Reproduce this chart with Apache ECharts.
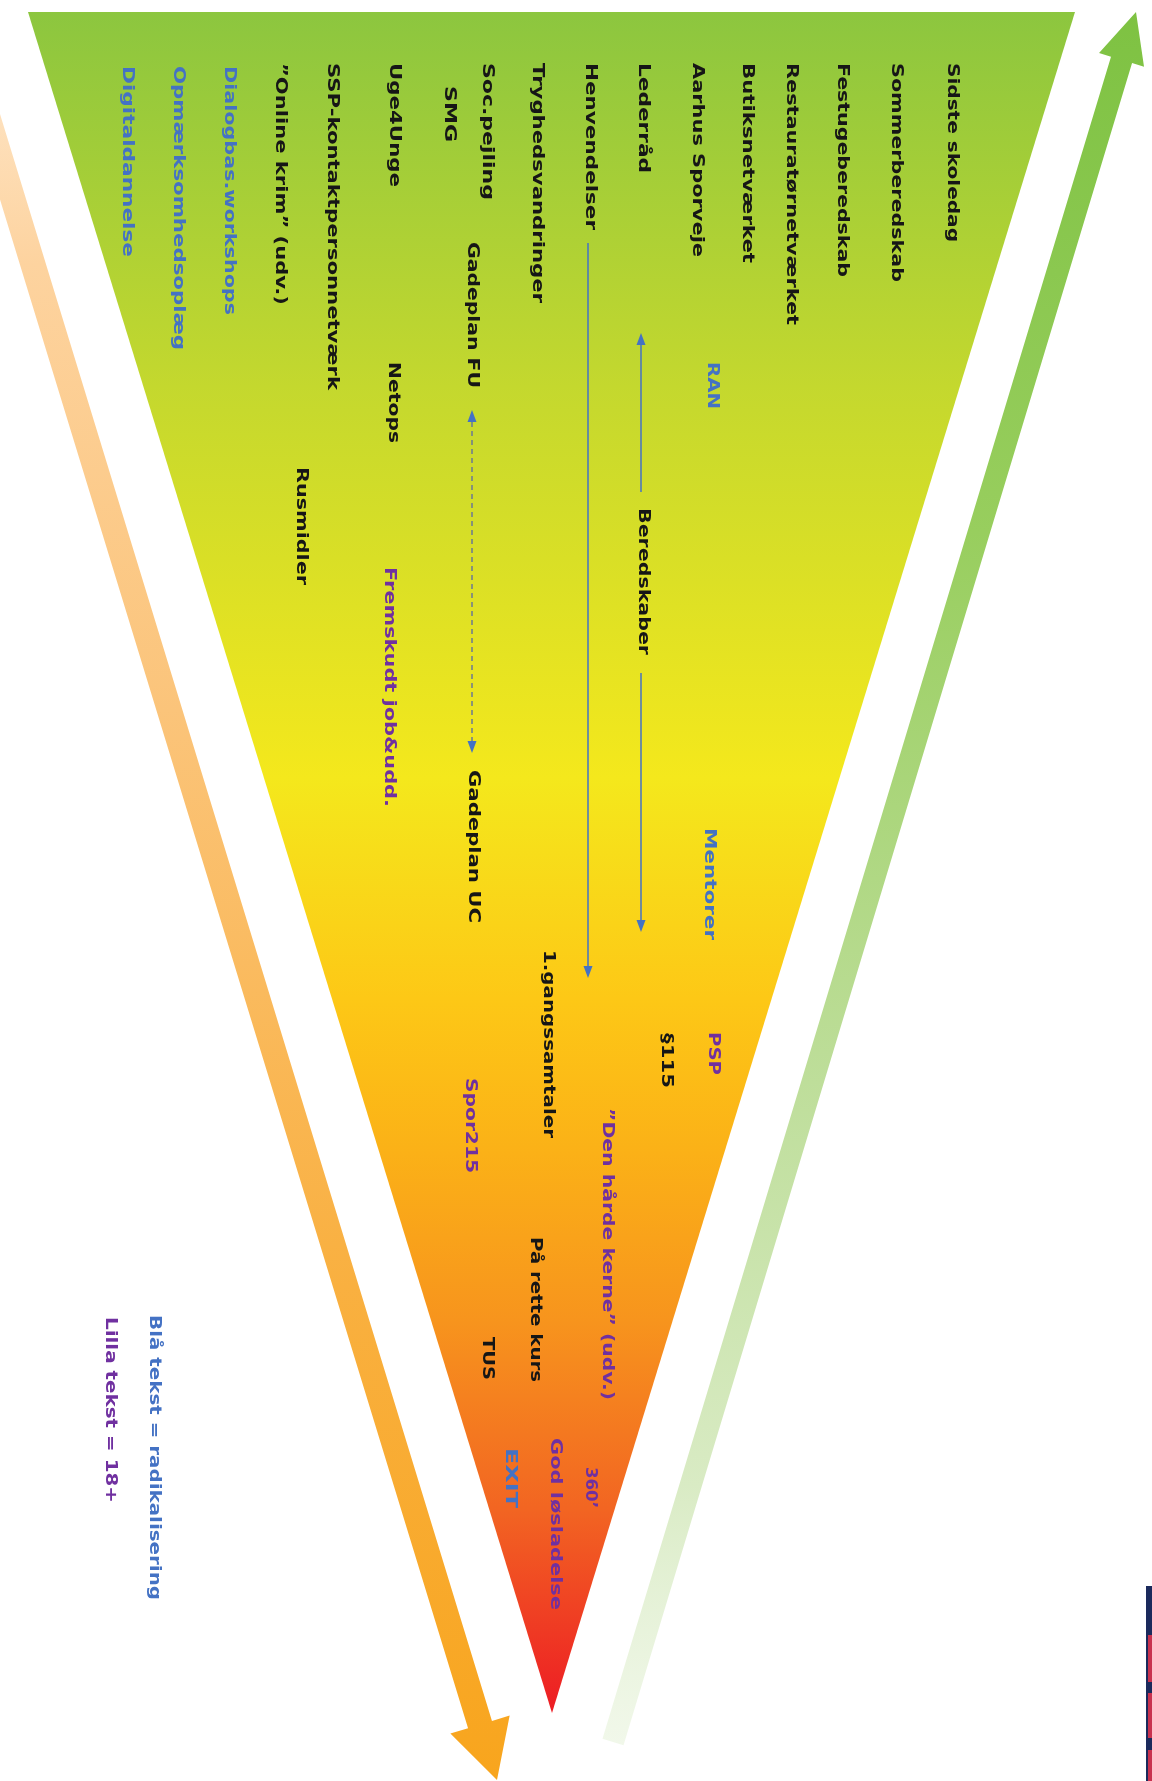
<!DOCTYPE html>
<html><head><meta charset="utf-8">
<script src="https://cdn.jsdelivr.net/npm/echarts/dist/echarts.min.js"></script>
<style>html,body{margin:0;padding:0;background:#fff}#c{width:1152px;height:1781px}</style>
</head><body><div id="c"></div>
<script>
// ---- diagram data (in the page's own value space: x 0..1152, y 0..1781) ----
const funnelVertices = [[28, 12], [1075, 12], [552, 1713]];
const funnelStops = [[0, '#8cc63f'], [0.22, '#c4d82e'], [0.45, '#f4e81c'], [0.58, '#fdc816'],
                     [0.67, '#fbb117'], [0.77, '#f7941d'], [0.88, '#f26522'], [1, '#ed1c24']];
const greenArrow = [[613, 1742], [1136, 12]];
const orangeArrow = [[-48, 0], [497, 1780]];

const blackLabels = [
  ['Sidste skoledag', 952, 63, 242],
  ['Sommerberedskab', 896, 63, 282],
  ['Festugeberedskab', 842, 63, 277],
  ['Restauratørnetværket', 791, 63, 325],
  ['Butiksnetværket', 747, 63, 263],
  ['Aarhus Sporveje', 697, 63, 257],
  ['Lederråd', 643, 63, 173],
  ['Henvendelser', 590, 63, 230],
  ['Tryghedsvandringer', 537, 63, 303],
  ['Soc.pejling', 487, 63, 200],
  ['SMG', 449, 86, 142],
  ['Uge4Unge', 394, 63, 187],
  ['SSP-kontaktpersonnetværk', 332, 63, 390],
  ['\u201dOnline krim\u201d (udv.)', 280, 63, 305],
  ['Gadeplan FU', 472, 242, 388],
  ['Netops', 393, 362, 443],
  ['Rusmidler', 301, 467, 585],
  ['Beredskaber', 643, 508, 655],
  ['Gadeplan UC', 473, 770, 923],
  ['1.gangssamtaler', 548, 950, 1138],
  ['§115', 666, 1033, 1088],
  ['På rette kurs', 535, 1237, 1382],
  ['TUS', 487, 1337, 1380]
];
const blueLabels = [
  ['Dialogbas.workshops', 229, 66, 315],
  ['Opmærksomhedsoplæg', 178, 66, 350],
  ['Digitaldannelse', 127, 66, 257],
  ['RAN', 712, 362, 409],
  ['Mentorer', 709, 828, 940],
  ['EXIT', 510, 1448, 1508],
  ['Blå tekst = radikalisering', 154, 1315, 1600]
];
const purpleLabels = [
  ['Fremskudt job&udd.', 389, 567, 807],
  ['PSP', 713, 1032, 1075],
  ['\u201dDen hårde kerne\u201d (udv.)', 607, 1108, 1400],
  ['Spor215', 470, 1078, 1173],
  ['360\u2019', 590, 1467, 1508],
  ['God løsladelse', 555, 1438, 1610],
  ['Lilla tekst = 18+', 110, 1317, 1503]
];
// connector lines: [x, yFrom, yTo, headAtFrom, headAtTo, dashed]
const connectors = [
  [641, 333, 492, 1, 0, 0],
  [641, 673, 932, 0, 1, 0],
  [588, 243, 978, 0, 1, 0],
  [472, 410, 753, 1, 1, 1]
];
const logoParts = [[1146, 1586, 1152, 1781, '#1b2a5c'], [1148, 1635, 1152, 1682, '#c8324f'],
                   [1148, 1693, 1152, 1738, '#c8324f'], [1148, 1750, 1152, 1781, '#c8324f']];

// ---- rendering ----
const FONT = 'bold 16px "DejaVu Sans"';
const mctx = document.createElement('canvas').getContext('2d');
mctx.font = FONT;
const labelItems = [];
[[blackLabels, '#161616'], [blueLabels, '#4472c4'], [purpleLabels, '#7030a0']].forEach(([arr, col]) => {
  arr.forEach(l => labelItems.push({ text: l[0], x: l[1], y0: l[2], y1: l[3], color: col }));
});

function arrowPoly(p0, p1, shaftW, headW, headL) {
  const dx = p1[0] - p0[0], dy = p1[1] - p0[1], L = Math.hypot(dx, dy);
  const ux = dx / L, uy = dy / L, nx = -uy, ny = ux;
  const bx = p1[0] - ux * headL, by = p1[1] - uy * headL;
  return [
    [p0[0] + nx * shaftW / 2, p0[1] + ny * shaftW / 2],
    [bx + nx * shaftW / 2, by + ny * shaftW / 2],
    [bx + nx * headW / 2, by + ny * headW / 2],
    [p1[0], p1[1]],
    [bx - nx * headW / 2, by - ny * headW / 2],
    [bx - nx * shaftW / 2, by - ny * shaftW / 2],
    [p0[0] - nx * shaftW / 2, p0[1] - ny * shaftW / 2]
  ];
}
function grad(stops) {
  return new echarts.graphic.LinearGradient(0, 0, 0, 1, stops.map(s => ({ offset: s[0], color: s[1] })));
}

const chart = echarts.init(document.getElementById('c'), null, { renderer: 'canvas' });
chart.setOption({
  animation: false,
  backgroundColor: '#ffffff',
  grid: { left: 0, right: 0, top: 0, bottom: 0 },
  xAxis: { type: 'value', min: 0, max: 1152, show: false },
  yAxis: { type: 'value', min: 0, max: 1781, inverse: true, show: false },
  series: [
    { // funnel triangle
      type: 'custom', silent: true, data: [[0, 0]], z: 1,
      renderItem: (p, api) => ({
        type: 'polygon',
        shape: { points: funnelVertices.map(v => api.coord(v)) },
        style: { fill: grad(funnelStops) }
      })
    },
    { // side arrows
      type: 'custom', silent: true, data: [[0, 0]], z: 1,
      renderItem: (p, api) => ({
        type: 'group', children: [
          { type: 'polygon',
            shape: { points: arrowPoly(api.coord(orangeArrow[0]), api.coord(orangeArrow[1]), 25, 62, 58) },
            style: { fill: grad([[0, '#feebd4'], [0.15, '#fdd39f'], [0.4, '#fbc47a'], [0.7, '#f9b143'], [1, '#f8a51d']]) } },
          { type: 'polygon',
            shape: { points: arrowPoly(api.coord(greenArrow[0]), api.coord(greenArrow[1]), 22, 47, 50) },
            style: { fill: grad([[0, '#7ec242'], [0.3, '#98ce5e'], [0.6, '#bcdd97'], [0.85, '#d9ebc4'], [1, 'rgba(232,243,220,0.6)']]) } }
        ]
      })
    },
    { // connectors
      type: 'custom', silent: true, data: connectors.map((c, i) => [i, 0]), z: 3,
      renderItem: (p, api) => {
        const c = connectors[p.dataIndex];
        const a = api.coord([c[0], c[1]]), b = api.coord([c[0], c[2]]);
        const dir = b[1] > a[1] ? 1 : -1;
        const hl = 12, hw = 4.5;
        const kids = [{
          type: 'line',
          shape: { x1: a[0], y1: a[1] + (c[3] ? dir * hl : 0), x2: b[0], y2: b[1] - (c[4] ? dir * hl : 0) },
          style: { stroke: c[5] ? '#6b7a94' : '#4472c4', lineWidth: 1.5, lineDash: c[5] ? [5, 4] : null }
        }];
        if (c[3]) kids.push({ type: 'polygon', shape: { points: [[a[0], a[1]], [a[0] - hw, a[1] + dir * hl], [a[0] + hw, a[1] + dir * hl]] }, style: { fill: '#4472c4' } });
        if (c[4]) kids.push({ type: 'polygon', shape: { points: [[b[0], b[1]], [b[0] - hw, b[1] - dir * hl], [b[0] + hw, b[1] - dir * hl]] }, style: { fill: '#4472c4' } });
        return { type: 'group', children: kids };
      }
    },
    { // logo fragment
      type: 'custom', silent: true, data: logoParts.map((l, i) => [i, 0]), z: 2,
      renderItem: (p, api) => {
        const l = logoParts[p.dataIndex];
        const a = api.coord([l[0], l[1]]), b = api.coord([l[2], l[3]]);
        return { type: 'rect', shape: { x: a[0], y: a[1], width: b[0] - a[0], height: b[1] - a[1] }, style: { fill: l[4] } };
      }
    },
    { // rotated labels
      type: 'custom', silent: true, data: labelItems.map((l, i) => [l.x, l.y0]), z: 5,
      renderItem: (p, api) => {
        const l = labelItems[p.dataIndex];
        const a = api.coord([l.x, l.y0]), b = api.coord([l.x, l.y1]);
        const w = mctx.measureText(l.text).width;
        return {
          type: 'text', x: a[0], y: a[1], rotation: -Math.PI / 2,
          scaleX: (b[1] - a[1]) / w, scaleY: 1,
          style: { text: l.text, fill: l.color, font: FONT,
                   align: 'left', verticalAlign: 'middle', textAlign: 'left', textVerticalAlign: 'middle' }
        };
      }
    }
  ]
});
</script></body></html>
